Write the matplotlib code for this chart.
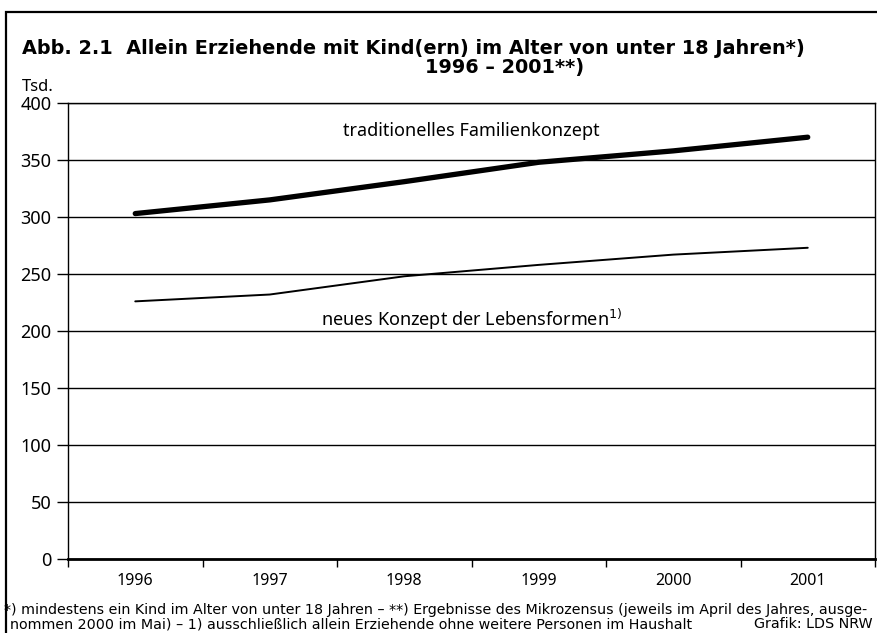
import matplotlib.pyplot as plt
from matplotlib.patches import Rectangle

years = ['1996', '1997', '1998', '1999', '2000', '2001']
traditionell = [303, 315, 331, 348, 358, 370]
neu = [226, 232, 248, 258, 267, 273]
y_ticks = [0, 50, 100, 150, 200, 250, 300, 350, 400]

W, H = 877, 633
plt.rcParams['font.family'] = ['Noto Sans', 'DejaVu Sans']

fig = plt.figure(figsize=(W / 100, H / 100), dpi=100)
ax = fig.add_axes([68 / W, (H - 559) / H, (875 - 68) / W, (559 - 103) / H])

x = list(range(len(years)))
ax.plot(x, traditionell, color='black', lw=3.8, solid_capstyle='round')
ax.plot(x, neu, color='black', lw=1.4, solid_capstyle='round')

ax.set_xlim(-0.5, len(years) - 0.5)
ax.set_ylim(0, 400)
ax.set_yticks(y_ticks)
ax.set_yticklabels([str(v) for v in y_ticks], fontsize=13)
ax.set_xticks([i - 0.5 for i in range(len(years) + 1)])
ax.set_xticklabels([])
ax.set_xticks(x, minor=True)
ax.set_xticklabels(years, minor=True, fontsize=11.5)
ax.tick_params(axis='x', which='minor', length=0, pad=10)
ax.tick_params(axis='x', which='major', length=6, width=1)
ax.tick_params(axis='y', length=8, width=1, pad=4)
ax.yaxis.grid(True, color='black', lw=1)
ax.set_axisbelow(True)
for s in ['left', 'right', 'top']:
    ax.spines[s].set_linewidth(1)
ax.spines['bottom'].set_linewidth(2)

ax.text(2.5, 375, 'traditionelles Familienkonzept', fontsize=13, ha='center', va='center')
ax.text(2.5, 210, 'neues Konzept der Lebensformen$^{1)}$', fontsize=13, ha='center', va='center')

# title and unit
fig.text(22 / W, 1 - 48 / H, 'Abb. 2.1  Allein Erziehende mit Kind(ern) im Alter von unter 18 Jahren*)',
         fontsize=13.9, fontweight='bold', family='DejaVu Sans', ha='left', va='center')
fig.text(505 / W, 1 - 68 / H, '1996 – 2001**)', fontsize=13.9, fontweight='bold', family='DejaVu Sans',
         ha='center', va='center')
fig.text(22 / W, 1 - 87 / H, 'Tsd.', fontsize=12, ha='left', va='center')

# footnotes
fig.text(4 / W, 1 - 610 / H,
         '*) mindestens ein Kind im Alter von unter 18 Jahren – **) Ergebnisse des Mikrozensus '
         '(jeweils im April des Jahres, ausge-',
         fontsize=10.3, family='DejaVu Sans', ha='left', va='center')
fig.text(10 / W, 1 - 624 / H,
         'nommen 2000 im Mai) – 1) ausschließlich allein Erziehende ohne weitere Personen im Haushalt',
         fontsize=10.3, family='DejaVu Sans', ha='left', va='center')
fig.text(873 / W, 1 - 624 / H, 'Grafik: LDS NRW', fontsize=10.3, family='DejaVu Sans',
         ha='right', va='center')

# outer frame
fig.patches.append(Rectangle((6 / W, -0.1), 1.0, 1.1 - 12 / H, transform=fig.transFigure,
                             fill=False, edgecolor='black', lw=1.6))

fig.savefig('out.png', dpi=100)
